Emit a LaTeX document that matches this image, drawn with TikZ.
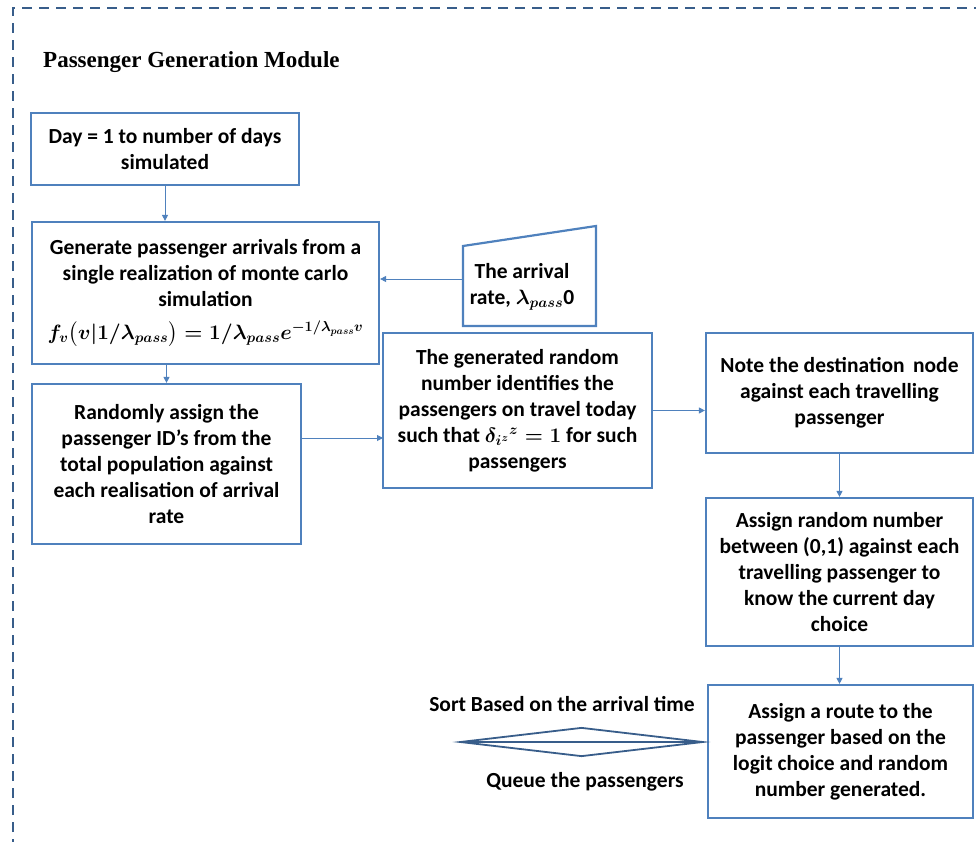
\documentclass[tikz,border=0pt]{standalone}
\usepackage{amsmath}
\usepackage[no-math]{fontspec}
\setmainfont{Carlito}
\newfontfamily\titlefont{Liberation Serif}
\usetikzlibrary{shapes.geometric,arrows.meta}

\newcommand{\arrivalpdf}{{\fontsize{20.5}{26}\selectfont\boldmath$f_v\bigl(v\vert 1/\lambda_{pass}\bigr)=1/\lambda_{pass}e^{-1/\lambda_{pass}v}$}}
\newcommand{\travelflag}{{\boldmath$\delta_{i^z}{}^{z}=1$}}
\newcommand{\passrate}{{\boldmath$\lambda_{pass}$}}

\begin{document}
\begin{tikzpicture}[x=1pt, y=-1pt,
    box/.style={draw=BoxBlue, line width=2.2pt, align=center, inner sep=0pt,
        font=\bfseries\fontsize{21.5}{26}\selectfont},
    plain/.style={align=center, inner sep=0pt, font=\bfseries\fontsize{21.5}{26}\selectfont},
    link/.style={draw=BoxBlue, line width=0.9pt, -{Triangle[length=6pt,width=6pt]}}]
    \definecolor{BoxBlue}{HTML}{4F81BD}
    \definecolor{FrameBlue}{HTML}{385D8A}
    \useasboundingbox (0,0) rectangle (976,842);
    \clip (0,0) rectangle (976,842);

    % module frame, runs off the page on the right and bottom
    \draw[FrameBlue, line width=2pt, dash pattern=on 10pt off 7pt] (13,900) -- (13,8) -- (1000,8);
    \node[anchor=west, inner sep=0pt, font=\titlefont\bfseries\fontsize{23}{26}\selectfont] (title) at (43,62) {Passenger Generation Module};

    % left column
    \node[box, minimum width=268pt, minimum height=72pt] (day) at (165,149) {Day = 1 to number of days\\simulated};
    \node[box, minimum width=347pt, minimum height=142pt] (gen) at (205.5,293) {Generate passenger arrivals from a\\single realization of monte carlo\\simulation\\[7pt]{\arrivalpdf}};
    \node[box, minimum width=269pt, minimum height=160pt] (assign) at (166.5,464) {Randomly assign the\\passenger ID’s from the\\total population against\\each realisation of arrival\\rate};

    % arrival rate input
    \coordinate (r1) at (463,246);
    \coordinate (r2) at (596,226);
    \coordinate (r3) at (596,326);
    \coordinate (r4) at (463,326);
    \draw[BoxBlue, line width=2.2pt] (r1) -- (r2) -- (r3) -- (r4) -- cycle;
    \node[plain] (rate) at (522,287) {The arrival\\rate, \passrate0};
    \coordinate (rateIn) at (463,279);

    \node[box, minimum width=269pt, minimum height=155pt] (ident) at (517.5,410.5) {The generated random\\number identifies the\\passengers on travel today\\such that \travelflag{} for such\\passengers};

    % right column
    \node[box, minimum width=267pt, minimum height=120pt] (note) at (839.5,393) {Note the destination\, node\\against each travelling\\passenger};
    \node[box, minimum width=267pt, minimum height=148pt] (rnd) at (839.5,572) {Assign random number\\between (0,1) against each\\travelling passenger to\\know the current day\\choice};
    \node[box, minimum width=265pt, minimum height=133pt] (route) at (840.5,751.5) {Assign a route to the\\passenger based on the\\logit choice and random\\number generated.};

    % queue
    \node[draw=FrameBlue, line width=1.8pt, shape=diamond, inner sep=0pt, aspect=8.4, minimum width=243pt, minimum height=29pt] (queue) at (581.5,742) {};
    \draw[FrameBlue, line width=1.8pt] (queue.west) -- (queue.east);
    \node[plain] (sortlbl) at (562,704) {Sort Based on the arrival time};
    \node[plain] (queuelbl) at (585,782) {Queue the passengers};

    % connectors
    \draw[link] (day.south) -- (gen.north -| day.south);
    \draw[link] (gen.south -| assign.north) -- (assign.north);
    \draw[link] (rateIn) -- (gen.east |- rateIn);
    \coordinate (idIn) at (383,438);
    \draw[link] (assign.east |- idIn) -- (idIn);
    \draw[link] (ident.east) -- (note.west |- ident.east);
    \draw[link] (note.south) -- (rnd.north);
    \draw[link] (rnd.south) -- (route.north -| rnd.south);
\end{tikzpicture}
\end{document}
